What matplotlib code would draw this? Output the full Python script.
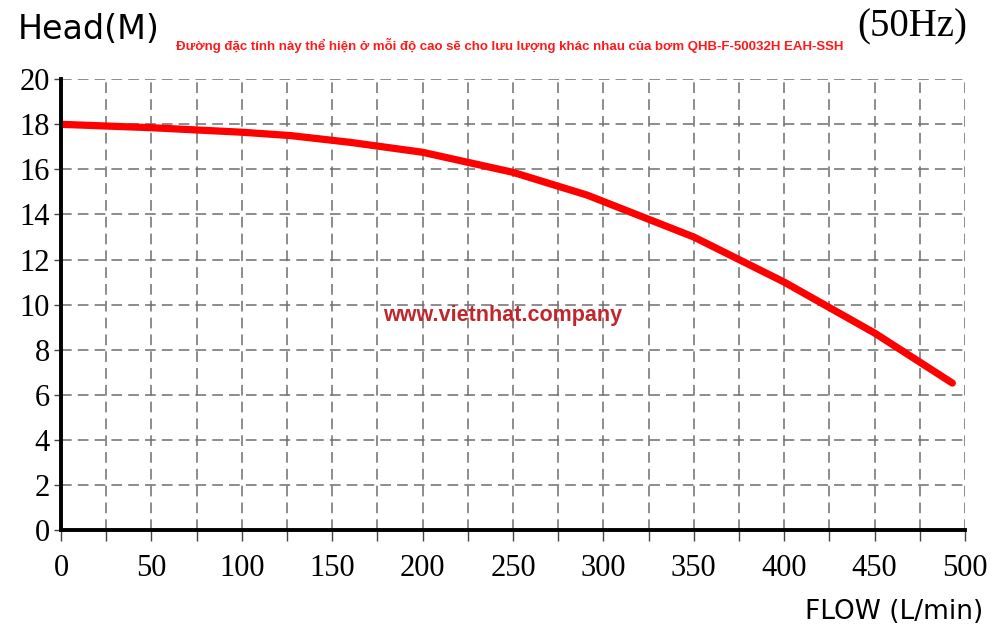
import matplotlib
matplotlib.use("Agg")
import matplotlib.pyplot as plt
import numpy as np

# pump curve
flow = [0, 50, 100, 127, 160, 200, 250, 291, 350, 400, 450, 493]
head = [18.0, 17.85, 17.65, 17.5, 17.2, 16.76, 15.87, 14.86, 13.0, 11.0, 8.74, 6.52]

x_ticks = [0, 50, 100, 150, 200, 250, 300, 350, 400, 450, 500]
y_ticks = [0, 2, 4, 6, 8, 10, 12, 14, 16, 18, 20]

title_vi = "Đường đặc tính này thể hiện ở mỗi độ cao sẽ cho lưu lượng khác nhau của bơm QHB-F-50032H EAH-SSH"

fig = plt.figure(figsize=(10, 6.34), dpi=100)
ax = fig.add_axes([0.061, 0.164, 0.904, 0.711])

ax.plot(flow, head, color="#ff0000", lw=5.2, solid_capstyle="round", zorder=5)

ax.set_xlim(0, 500)
ax.set_ylim(0, 20)
ax.set_xticks(x_ticks)
ax.set_xticks(np.arange(25, 500, 50), minor=True)
ax.set_yticks(y_ticks)

ax.grid(True, which="both", color="#6e6e6e", linestyle=(0, (7, 4)), linewidth=1.1)
ax.set_axisbelow(True)

for s in ["top", "right"]:
    ax.spines[s].set_visible(False)
for s in ["left", "bottom"]:
    ax.spines[s].set_linewidth(2.8)
    ax.spines[s].set_color("black")
    ax.spines[s].set_zorder(6)

ax.tick_params(axis="x", which="both", direction="out", length=8, width=1, color="#444444", pad=9)
ax.tick_params(axis="y", direction="out", length=5, width=1, color="#444444", pad=3)

serif = {"family": "Liberation Serif", "size": 22}
ax.set_xticklabels([str(v) for v in x_ticks], fontdict=serif)
ax.set_yticklabels([str(v) for v in y_ticks], fontdict=serif)

fig.text(0.018, 0.953, "Head(M)", fontsize=24, family="DejaVu Sans",
         ha="left", va="center")
fig.text(0.51, 0.928, title_vi, fontsize=9.5, fontweight="bold", color="#ff1a1a",
         family="Liberation Sans", ha="center", va="center")
fig.text(0.912, 0.958, "(50Hz)", fontsize=28, family="Liberation Serif",
         ha="center", va="center")
fig.text(0.983, 0.035, "FLOW (L/min)", fontsize=19, family="DejaVu Sans",
         ha="right", va="center")
ax.text(0.488, 0.477, "www.vietnhat.company", transform=ax.transAxes, fontsize=15.5,
        fontweight="bold", color="#c0262c", family="Liberation Sans",
        ha="center", va="center", zorder=7)

fig.savefig("out.png", dpi=100)
